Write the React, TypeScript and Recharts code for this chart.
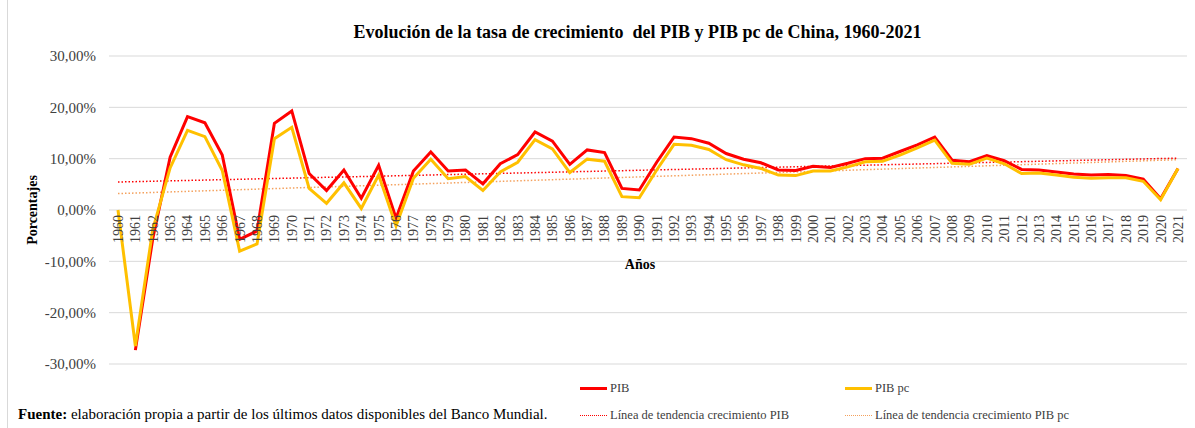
import React from "react";
import {
  LineChart,
  Line,
  XAxis,
  YAxis,
  CartesianGrid,
  ReferenceLine,
} from "recharts";

const years = [
  "1960", "1961", "1962", "1963", "1964", "1965", "1966", "1967", "1968", "1969",
  "1970", "1971", "1972", "1973", "1974", "1975", "1976", "1977", "1978", "1979",
  "1980", "1981", "1982", "1983", "1984", "1985", "1986", "1987", "1988", "1989",
  "1990", "1991", "1992", "1993", "1994", "1995", "1996", "1997", "1998", "1999",
  "2000", "2001", "2002", "2003", "2004", "2005", "2006", "2007", "2008", "2009",
  "2010", "2011", "2012", "2013", "2014", "2015", "2016", "2017", "2018", "2019",
  "2020", "2021",
];

// crecimiento del PIB (%)
const pib = [
  null, -27.3, -5.6, 10.3, 18.2, 17.0, 10.7, -5.7, -4.1, 16.9,
  19.3, 7.1, 3.8, 7.8, 2.3, 8.7, -1.6, 7.6, 11.3, 7.6,
  7.8, 5.1, 9.0, 10.8, 15.2, 13.4, 8.9, 11.7, 11.2, 4.2,
  3.9, 9.3, 14.2, 13.9, 13.0, 11.0, 9.9, 9.2, 7.8, 7.7,
  8.5, 8.3, 9.1, 10.0, 10.1, 11.4, 12.7, 14.2, 9.7, 9.4,
  10.6, 9.6, 7.9, 7.8, 7.4, 7.0, 6.8, 6.9, 6.7, 6.0,
  2.2, 8.1,
];

// crecimiento del PIB per cápita (%)
const pibPc = [
  0, -26.5, -3.8, 8.2, 15.5, 14.3, 7.7, -8.0, -6.6, 13.9,
  16.1, 4.2, 1.3, 5.3, 0.3, 6.8, -3.1, 6.2, 9.9, 6.1,
  6.5, 3.8, 7.4, 9.3, 13.7, 11.9, 7.3, 9.9, 9.5, 2.6,
  2.4, 7.8, 12.8, 12.6, 11.8, 9.8, 8.8, 8.1, 6.8, 6.7,
  7.6, 7.6, 8.4, 9.4, 9.5, 10.7, 12.1, 13.6, 9.1, 8.9,
  10.1, 9.0, 7.1, 7.2, 6.8, 6.4, 6.2, 6.3, 6.3, 5.6,
  2.0, 8.1,
];

// líneas de tendencia: valor en 1960 y en 2021
const trendPib = [5.45, 10.1];
const trendPibPc = [3.2, 9.8];

const yTicks = [-30, -20, -10, 0, 10, 20, 30];

const data = years.map((year, i) => ({ year, pib: pib[i], pibPc: pibPc[i] }));

const FONT = "'Liberation Serif', 'Times New Roman', serif";
const W = 1195;
const H = 428;
const TOP = 56;
const PLOT_H = 308;
const ZERO_Y = TOP + PLOT_H / 2;

const fmt = (v: number) => v.toFixed(2).replace(".", ",") + "%";

const YearTick = (props: any) => {
  const { x, payload } = props;
  return (
    <g transform={`translate(${x},${ZERO_Y + 5}) rotate(-90)`}>
      <text
        x={0}
        y={0}
        dy="0.35em"
        textAnchor="end"
        fill="#404040"
        style={{ fontFamily: FONT, fontSize: 14 }}
      >
        {payload.value}
      </text>
    </g>
  );
};

const LegendItem = ({
  left,
  top,
  color,
  dotted,
  label,
}: {
  left: number;
  top: number;
  color: string;
  dotted?: boolean;
  label: string;
}) => (
  <div
    style={{
      position: "absolute",
      left,
      top: top - 9,
      height: 18,
      display: "flex",
      alignItems: "center",
      fontSize: 12.5,
      color: "#404040",
      whiteSpace: "nowrap",
    }}
  >
    <div
      style={{
        width: 27,
        height: 0,
        borderTop: dotted ? `1.5px dotted ${color}` : `3px solid ${color}`,
        marginRight: 3,
      }}
    />
    <span>{label}</span>
  </div>
);

export default function App() {
  return (
    <div
      style={{
        position: "absolute",
        left: 0,
        top: 0,
        width: W,
        height: H,
        background: "#fff",
        fontFamily: FONT,
        overflow: "hidden",
      }}
    >
      <div
        style={{
          position: "absolute",
          left: 7,
          top: 0,
          width: 0,
          height: H,
          borderLeft: "1px solid #d9d9d9",
        }}
      />
      <LineChart
        width={W}
        height={H}
        data={data}
        margin={{ top: TOP, right: 8, bottom: H - TOP - PLOT_H - 1, left: 0 }}
      >
        <CartesianGrid vertical={false} stroke="#d9d9d9" strokeWidth={1} />
        <XAxis
          dataKey="year"
          height={1}
          axisLine={false}
          tickLine={false}
          interval={0}
          padding={{ left: 9, right: 9 }}
          tick={<YearTick />}
        />
        <YAxis
          width={109}
          domain={[-30, 30]}
          ticks={yTicks}
          axisLine={false}
          tickLine={false}
          tickSize={0}
          tickMargin={13}
          tickFormatter={fmt}
          tick={{ fill: "#404040", fontSize: 15, fontFamily: FONT }}
        />
        <ReferenceLine
          segment={[
            { x: years[0], y: trendPib[0] },
            { x: years[years.length - 1], y: trendPib[1] },
          ]}
          stroke="#FF0000"
          strokeWidth={1.5}
          strokeDasharray="1.5 2"
        />
        <ReferenceLine
          segment={[
            { x: years[0], y: trendPibPc[0] },
            { x: years[years.length - 1], y: trendPibPc[1] },
          ]}
          stroke="#F4A15D"
          strokeWidth={1.5}
          strokeDasharray="1.5 2"
        />
        <Line
          type="linear"
          dataKey="pib"
          stroke="#FF0000"
          strokeWidth={3}
          dot={false}
          activeDot={false}
          isAnimationActive={false}
        />
        <Line
          type="linear"
          dataKey="pibPc"
          stroke="#FFC000"
          strokeWidth={3}
          dot={false}
          activeDot={false}
          isAnimationActive={false}
        />
      </LineChart>

      <div
        style={{
          position: "absolute",
          left: 0,
          width: W,
          top: 22,
          textAlign: "center",
          fontWeight: "bold",
          fontSize: 18,
          color: "#000",
          whiteSpace: "pre",
          paddingLeft: 80,
          boxSizing: "border-box",
        }}
      >
        {"Evolución de la tasa de crecimiento  del PIB y PIB pc de China, 1960-2021"}
      </div>

      <div
        style={{
          position: "absolute",
          left: 33,
          top: ZERO_Y,
          transform: "translate(-50%, -50%) rotate(-90deg)",
          fontWeight: "bold",
          fontSize: 14,
          color: "#000",
          whiteSpace: "nowrap",
        }}
      >
        Porcentajes
      </div>

      <div
        style={{
          position: "absolute",
          left: 640,
          top: 265,
          transform: "translate(-50%, -50%)",
          fontWeight: "bold",
          fontSize: 14,
          color: "#000",
        }}
      >
        Años
      </div>

      <LegendItem left={580} top={388} color="#FF0000" label="PIB" />
      <LegendItem left={845} top={388} color="#FFC000" label="PIB pc" />
      <LegendItem
        left={580}
        top={415}
        color="#FF0000"
        dotted
        label="Línea de tendencia crecimiento PIB"
      />
      <LegendItem
        left={845}
        top={415}
        color="#F4A15D"
        dotted
        label="Línea de tendencia crecimiento PIB pc"
      />

      <div
        style={{
          position: "absolute",
          left: 18,
          top: 406,
          fontSize: 15,
          color: "#000",
          whiteSpace: "nowrap",
        }}
      >
        <b>Fuente:</b> elaboración propia a partir de los últimos datos disponibles del Banco Mundial.
      </div>
    </div>
  );
}
